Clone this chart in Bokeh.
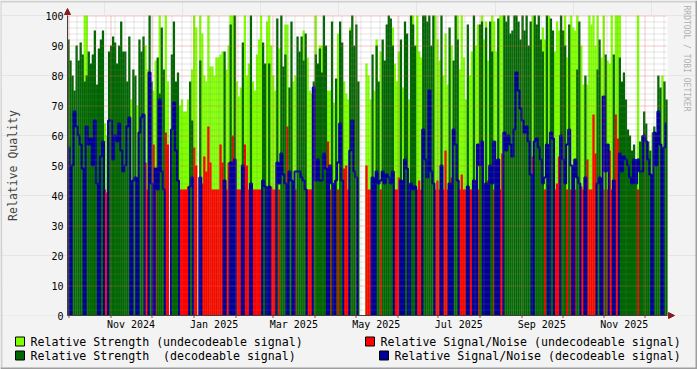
from math import pi
import pandas as pd
from bokeh.plotting import figure
from bokeh.models import (Range1d, FixedTicker, ColumnDataSource, DatetimeAxis, LinearAxis,
                          BoxAnnotation)
from bokeh.embed import file_html
from bokeh.resources import INLINE
from bokeh.core.properties import value

# ---------------- data (one value per 36-hour slot, 0 = no data) ----------------
start_date = "2024-09-30"
slot_hours = 36
span_days = 444

strength_undec = [
    0, 0, 0, 0, 0, 0, 0, 0, 100, 100, 0, 0, 0, 0, 0, 0, 0, 0, 64, 60, 0, 0, 0, 0, 0,
    0, 0, 0, 0, 0, 0, 72, 0, 0, 70, 0, 0, 0, 90, 82, 0, 0, 75, 85, 0, 100, 0, 0, 100, 78,
    0, 0, 0, 0, 0, 70, 72, 68, 68, 72, 0, 82, 100, 96, 0, 100, 94, 80, 78, 100, 83, 83, 80, 86, 86,
    87, 88, 0, 82, 90, 100, 100, 0, 78, 73, 76, 0, 100, 80, 84, 0, 78, 75, 87, 92, 100, 0, 0, 98, 100,
    90, 80, 75, 0, 89, 0, 0, 97, 97, 0, 0, 78, 80, 0, 0, 0, 95, 0, 86, 75, 74, 0, 100, 0, 90,
    90, 0, 0, 75, 75, 0, 71, 0, 94, 0, 0, 78, 74, 72, 96, 0, 0, 0, 0, 0, 0, 0, 84, 80, 72,
    0, 75, 92, 0, 88, 0, 0, 0, 0, 0, 96, 84, 78, 88, 0, 76, 0, 0, 72, 0, 100, 0, 100, 88, 86,
    0, 0, 0, 0, 0, 0, 100, 92, 85, 0, 80, 94, 77, 0, 90, 0, 0, 100, 82, 100, 86, 72, 0, 80, 88,
    0, 90, 97, 0, 100, 92, 98, 85, 0, 100, 98, 88, 0, 100, 100, 0, 0, 0, 0, 0, 0, 0, 0, 0, 0,
    0, 0, 0, 0, 100, 0, 0, 0, 0, 96, 92, 0, 100, 0, 0, 88, 98, 95, 0, 0, 100, 86, 0, 100, 96,
    95, 100, 0, 90, 77, 0, 77, 100, 97, 100, 90, 100, 0, 86, 100, 0, 85, 84, 100, 0, 100, 100, 100, 0, 0,
    0, 0, 0, 0, 0, 0, 100, 0, 0, 0, 0, 0, 0, 61, 0, 0, 0, 0, 80, 0, 0,
]
snr_undec = [
    0, 0, 0, 0, 0, 0, 0, 0, 0, 0, 0, 0, 0, 0, 0, 0, 0, 0, 42, 41, 0, 0, 0, 0, 0,
    0, 0, 0, 0, 0, 0, 42, 0, 0, 42, 0, 0, 0, 51, 42, 0, 0, 57, 42, 0, 0, 0, 0, 61, 57,
    0, 0, 0, 0, 0, 42, 42, 42, 42, 43, 0, 0, 56, 50, 0, 0, 44, 53, 48, 63, 51, 42, 42, 42, 42,
    57, 51, 0, 42, 51, 0, 60, 0, 42, 42, 42, 0, 57, 50, 42, 0, 42, 42, 42, 42, 42, 0, 0, 42, 0,
    43, 42, 42, 0, 42, 0, 0, 0, 63, 0, 0, 42, 42, 0, 0, 0, 0, 0, 42, 42, 42, 0, 0, 0, 0,
    0, 0, 0, 58, 42, 0, 43, 0, 42, 0, 0, 49, 50, 42, 0, 0, 0, 0, 0, 0, 0, 0, 50, 42, 42,
    0, 42, 0, 0, 42, 0, 0, 0, 0, 0, 0, 42, 42, 46, 0, 42, 0, 0, 42, 0, 0, 0, 42, 45, 42,
    0, 0, 0, 0, 0, 0, 42, 45, 42, 0, 42, 55, 42, 0, 46, 0, 0, 0, 42, 47, 42, 42, 0, 42, 42,
    0, 42, 42, 0, 0, 42, 0, 45, 0, 0, 42, 42, 0, 42, 54, 0, 0, 0, 0, 0, 0, 0, 0, 0, 0,
    0, 0, 0, 0, 53, 0, 0, 0, 0, 0, 42, 0, 43, 0, 0, 42, 44, 53, 0, 0, 0, 42, 0, 42, 45,
    42, 0, 0, 43, 42, 0, 52, 42, 42, 67, 54, 0, 0, 42, 42, 0, 42, 55, 42, 0, 67, 59, 0, 0, 0,
    0, 0, 0, 0, 0, 0, 42, 0, 0, 0, 0, 0, 0, 45, 0, 0, 0, 0, 52, 0, 0,
]
strength_dec = [
    92, 85, 80, 75, 90, 85, 91, 87, 78, 80, 88, 84, 87, 95, 77, 89, 92, 95, 0, 0, 88, 90, 93, 91, 84,
    90, 98, 88, 88, 78, 93, 0, 82, 80, 0, 92, 88, 93, 0, 0, 100, 78, 0, 0, 86, 74, 96, 82, 0, 0,
    0, 87, 98, 78, 81, 0, 0, 0, 0, 0, 78, 65, 0, 0, 0, 85, 0, 0, 0, 0, 0, 0, 0, 0, 0,
    0, 0, 88, 0, 0, 97, 0, 100, 0, 0, 0, 91, 0, 0, 0, 100, 0, 0, 0, 0, 0, 91, 84, 0, 84,
    0, 0, 0, 99, 0, 100, 83, 87, 0, 76, 98, 0, 0, 93, 88, 93, 85, 94, 0, 0, 0, 78, 87, 84, 89,
    81, 100, 90, 0, 0, 98, 0, 79, 0, 98, 91, 0, 0, 0, 95, 100, 90, 97, 78, 0, 0, 0, 0, 0, 0,
    87, 0, 90, 78, 0, 92, 85, 97, 100, 99, 90, 0, 0, 0, 92, 0, 98, 94, 0, 100, 97, 90, 0, 0, 0,
    100, 100, 98, 100, 90, 100, 0, 0, 0, 100, 0, 0, 0, 96, 0, 85, 100, 92, 0, 0, 0, 0, 97, 0, 0,
    100, 0, 0, 97, 98, 0, 96, 0, 98, 88, 0, 0, 99, 0, 0, 100, 98, 100, 94, 95, 100, 100, 98, 92, 100,
    95, 100, 90, 98, 0, 100, 97, 100, 92, 88, 0, 100, 0, 99, 95, 0, 0, 0, 100, 95, 90, 0, 97, 0, 0,
    0, 82, 98, 0, 0, 80, 0, 0, 0, 0, 0, 82, 92, 0, 0, 87, 0, 0, 0, 87, 0, 0, 86, 78, 81,
    72, 62, 60, 55, 57, 52, 0, 58, 60, 68, 64, 58, 55, 0, 63, 60, 80, 76, 0, 78, 72,
]
snr_dec = [
    56, 0, 50, 68, 63, 60, 57, 49, 0, 63, 57, 59, 50, 65, 44, 0, 53, 58, 0, 0, 65, 65, 52, 60, 58,
    64, 55, 48, 50, 63, 66, 0, 45, 46, 0, 61, 66, 67, 0, 0, 81, 44, 0, 49, 42, 72, 48, 42, 0, 0,
    0, 62, 71, 55, 45, 0, 0, 0, 0, 0, 43, 46, 0, 0, 0, 46, 0, 0, 0, 0, 0, 0, 0, 0, 0,
    0, 0, 45, 0, 0, 51, 0, 52, 0, 0, 0, 50, 0, 0, 0, 44, 0, 0, 0, 0, 0, 45, 43, 0, 43,
    0, 0, 0, 51, 44, 54, 47, 44, 0, 48, 45, 0, 48, 48, 48, 46, 45, 42, 0, 0, 0, 76, 45, 52, 45,
    45, 54, 49, 0, 50, 44, 0, 45, 51, 64, 45, 0, 0, 0, 55, 65, 48, 46, 0, 0, 0, 0, 0, 0, 0,
    46, 0, 48, 44, 45, 48, 44, 47, 46, 44, 48, 0, 0, 0, 45, 0, 52, 49, 0, 44, 42, 43, 0, 0, 0,
    62, 52, 46, 75, 48, 44, 0, 0, 0, 50, 0, 0, 0, 44, 0, 62, 57, 45, 0, 0, 0, 0, 43, 0, 0,
    45, 0, 57, 50, 58, 0, 44, 0, 50, 44, 58, 0, 52, 0, 0, 61, 55, 60, 57, 53, 62, 81, 75, 69, 65,
    61, 63, 58, 47, 0, 58, 59, 56, 52, 44, 46, 57, 0, 61, 59, 0, 0, 0, 60, 52, 44, 57, 62, 50, 0,
    52, 46, 44, 0, 0, 46, 0, 0, 0, 0, 0, 44, 46, 0, 73, 48, 57, 0, 0, 45, 0, 0, 54, 48, 53,
    52, 50, 46, 44, 52, 44, 52, 48, 48, 60, 58, 52, 47, 0, 61, 50, 68, 57, 0, 56, 64,
]

month_labels = ["Nov 2024", "Jan 2025", "Mar 2025", "May 2025", "Jul 2025", "Sep 2025", "Nov 2025"]
y_ticks = [0, 10, 20, 30, 40, 50, 60, 70, 80, 90, 100]
legend_labels = [
    "Relative Strength (undecodeable signal)",
    "Relative Signal/Noise (undecodeable signal)",
    "Relative Strength \u00a0(decodeable signal)",
    "Relative Signal/Noise (decodeable signal)",
]
series_colors = ["#80FF00", "#FF0000", "#006600", "#000099"]
watermark = "RRDTOOL / TOBI OETIKER"

FONT = "DejaVu Sans Mono"
BG = "#f3f3f3"
ARROW = "#8b1a1a"

n = len(strength_dec)
assert len(strength_undec) == n and len(snr_undec) == n and len(snr_dec) == n


def ms(ts):
    return ts.value // 10**6


t0 = pd.Timestamp(start_date)
step_ms = pd.Timedelta(hours=slot_hours).total_seconds() * 1000.0
centers = [ms(t0) + (i + 0.5) * step_ms for i in range(n)]
# slots without a decodeable S/N reading are drawn just below the axis (hidden by the mask)
snr_dec_line = [v if v > 0 else -2 for v in snr_dec]

src = ColumnDataSource(dict(x=centers, su=strength_undec, nu=snr_undec,
                            sd=strength_dec, nd=snr_dec_line))

# ---------------- geometry: frame covers the whole canvas ----------------
W, H = 697, 369
PL, PR, PT, PB = 67, 667, 15, 315          # plot-area edges in canvas pixels
x0 = ms(t0)
x1 = ms(t0 + pd.Timedelta(days=span_days))
mpp = (x1 - x0) / (PR - PL)                 # ms per pixel
upp = 100.0 / (PB - PT)                     # quality units per pixel

p = figure(frame_width=W, frame_height=H,
           x_range=Range1d(x0 - PL * mpp, x1 + (W - PR) * mpp),
           y_range=Range1d(-(H - PB) * upp, 100 + PT * upp),
           x_axis_location=None, y_axis_location=None,
           toolbar_location=None, output_backend="svg",
           min_border=0, min_border_left=0, min_border_right=0,
           min_border_top=0, min_border_bottom=0,
           background_fill_color=BG, border_fill_color=BG, outline_line_color=None)
p.extra_x_ranges = {"px": Range1d(0, W)}
p.extra_y_ranges = {"py": Range1d(H, 0)}

p.add_layout(BoxAnnotation(left=x0, right=x1, bottom=0, top=100, fill_color="white",
                           fill_alpha=1.0, line_color=None, level="underlay"))

bar_w = step_ms * 1.12
p.vbar(x="x", top="su", bottom=0, width=bar_w, source=src, fill_color=series_colors[0], line_color=None)
p.vbar(x="x", top="nu", bottom=0, width=bar_w, source=src, fill_color=series_colors[1], line_color=None)
p.vbar(x="x", top="sd", bottom=0, width=bar_w, source=src, fill_color=series_colors[2], line_color=None)
p.step(x="x", y="nd", source=src, mode="center", line_color=series_colors[3], line_width=2)
# mask everything below the value axis
p.quad(left=[x0 - PL * mpp], right=[x1 + (W - PR) * mpp], bottom=[-(H - PB) * upp], top=[0],
       fill_color=BG, line_color=None)

# ---------------- grid (dotted, drawn over the data like rrdtool) ----------------
month_starts = [ms(d) for d in pd.date_range("2024-10-01", "2025-12-01", freq="MS")]
weeks = [ms(d) for d in pd.date_range(t0, t0 + pd.Timedelta(days=span_days), freq="W-MON")]
weeks = [w for w in weeks if w not in month_starts]
y_minor = [v for v in range(0, 101, 2) if v % 10]


def snap_x(t):
    px = round(PL + (t - x0) / mpp)
    return x0 + (px + 0.5 - PL) * mpp


def snap_y(v):
    return v - 0.5 * upp


for xs, colr, alpha in ((weeks, "#808080", 0.4), (month_starts, "#e06060", 0.7)):
    xs = [snap_x(t) for t in xs]
    p.segment(x0=xs, y0=[0] * len(xs), x1=xs, y1=[100] * len(xs),
              line_color=colr, line_alpha=alpha, line_dash="1 1", line_width=1)
for ys, colr, alpha in ((y_minor, "#808080", 0.4), (y_ticks[1:], "#e06060", 0.7)):
    ys = [snap_y(v) for v in ys]
    p.segment(x0=[x0] * len(ys), y0=ys, x1=[x1] * len(ys), y1=ys,
              line_color=colr, line_alpha=alpha, line_dash="1 1", line_width=1)

# month tick marks below the axis
ms_snap = [snap_x(t) for t in month_starts]
p.segment(x0=ms_snap, y0=[0] * len(ms_snap), x1=ms_snap, y1=[-2.5 * upp] * len(ms_snap),
          line_color="#b04040", line_width=1)

# ---------------- axes ----------------
label_ticks = []
overrides = {}
for lab in month_labels:
    m0 = pd.to_datetime(lab, format="%b %Y")
    m1 = m0 + pd.offsets.MonthBegin(1)
    mid = ms(m0 + (m1 - m0) / 2)
    label_ticks.append(mid)
    overrides[mid] = lab

xaxis = DatetimeAxis(fixed_location=0, bounds=(x0, x1),
                     ticker=FixedTicker(ticks=label_ticks, minor_ticks=[]),
                     major_label_overrides=overrides,
                     major_tick_in=0, major_tick_out=0, minor_tick_in=0, minor_tick_out=0,
                     major_tick_line_color=None, minor_tick_line_color=None,
                     major_label_standoff=3, major_label_text_font=FONT,
                     major_label_text_font_size="10px", major_label_text_color="black",
                     axis_line_color="#404040")
p.add_layout(xaxis, "below")

yaxis = LinearAxis(fixed_location=x0, bounds=(0, 100),
                   ticker=FixedTicker(ticks=y_ticks, minor_ticks=[]),
                   major_tick_in=0, major_tick_out=0, minor_tick_in=0, minor_tick_out=0,
                   major_tick_line_color=None, minor_tick_line_color=None,
                   major_label_standoff=4, major_label_text_font=FONT,
                   major_label_text_font_size="10px", major_label_text_color="black",
                   axis_line_color="#404040",
                   axis_label="Relative Quality", axis_label_text_font=FONT,
                   axis_label_text_font_size="11.5px", axis_label_text_font_style="normal",
                   axis_label_standoff=22)
p.add_layout(yaxis, "left")

# axis arrows
p.patch(x=[PL - 3, PL + 3, PL], y=[PT - 1, PT - 1, PT - 7], fill_color=ARROW, line_color=ARROW,
        x_range_name="px", y_range_name="py")
p.patch(x=[PR + 1, PR + 1, PR + 7], y=[PB - 3, PB + 3, PB], fill_color=ARROW, line_color=ARROW,
        x_range_name="px", y_range_name="py")

# watermark on the right, reading downwards
p.text(x=[686], y=[5], text=[watermark], angle=-pi / 2, text_align="left",
       text_baseline="middle", text_font=value(FONT), text_font_size=value("8px"),
       text_color="#b0b0b0", x_range_name="px", y_range_name="py")

# ---------------- legend ----------------
p.rect(x=[19.5, 369.5, 19.5, 383.5], y=[341, 341, 355, 355], width=9, height=9,
       fill_color=series_colors, line_color="black", line_width=1,
       x_range_name="px", y_range_name="py")
p.text(x=[30, 380, 30, 394], y=[341, 341, 355, 355], text=legend_labels,
       text_font=value(FONT), text_font_size=value("11.6px"), text_baseline="middle",
       text_align="left", text_color="black", x_range_name="px", y_range_name="py")

# image frame (light top/left, darker bottom/right)
p.segment(x0=[0, 0], y0=[1, 0], x1=[W, 1], y1=[1, H], line_color="#d0d0d0", line_width=2,
          x_range_name="px", y_range_name="py")
p.segment(x0=[0, W - 1], y0=[H - 1, 0], x1=[W, W - 1], y1=[H - 1, H], line_color="#9e9e9e",
          line_width=2, x_range_name="px", y_range_name="py")

open("out.html", "w").write(file_html(p, INLINE))
